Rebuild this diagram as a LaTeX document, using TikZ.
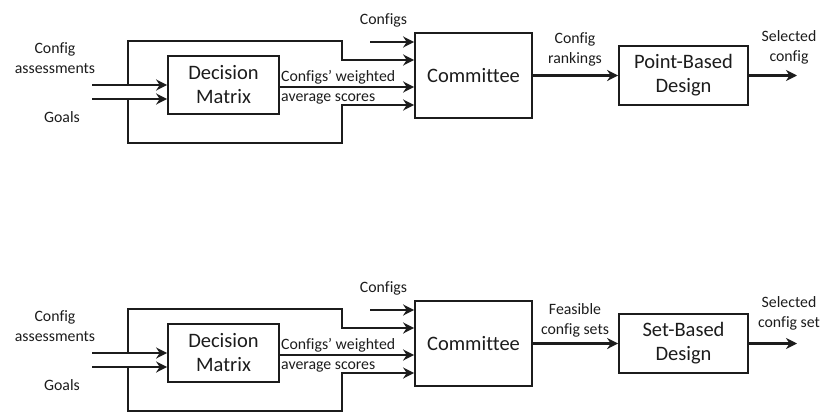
\documentclass[tikz,border=0pt]{standalone}
\usepackage{fontspec}
\setmainfont[Ligatures=NoCommon]{Carlito}
\usetikzlibrary{arrows.meta}
\definecolor{ink}{RGB}{28,28,28}
\tikzset{
  blk/.style={draw=ink, line width=1.7pt, inner sep=0pt, align=center,
    font=\fontsize{20.5}{24}\selectfont, text=ink},
  lbl/.style={align=center, inner sep=0pt, font=\fontsize{15.8}{20}\selectfont, text=ink},
  flow/.style={draw=ink, line width=2.6pt, line join=miter,
    -{Stealth[length=11pt,width=11pt,inset=3.5pt]}},
}
% One decision panel: #1 name suffix, #2 label between committee and design box,
% #3 y of that label, #4 design box text, #5 output label, #6 y of output label
\newcommand\decisionpanel[6]{%
  \node[blk, minimum width=111pt, minimum height=58pt] (dm#1) at (223.5,85) {Decision\\Matrix};
  \node[blk, minimum width=117pt, minimum height=85pt] (cm#1) at (473.5,75.5) {Committee};
  \node[blk, minimum width=129pt, minimum height=59pt] (ds#1) at (683.5,75.5) {#4};
  % input labels
  \node[lbl] (lca#1) at (55,58.5) {Config\\assessments};
  \node[lbl] (lgo#1) at (62,117) {Goals};
  \node[lbl] (lcf#1) at (383.5,20) {Configs};
  \node[lbl, align=left, anchor=west] (lws#1) at (281,87.5) {Configs’ weighted\\average scores};
  \node[lbl] (lrk#1) at (575,#3) {#2};
  \node[lbl] (lout#1) at (789,#6) {#5};
  % inputs to the decision matrix
  \coordinate (ca#1) at (92,85);
  \coordinate (go#1) at (92,99);
  \draw[flow] (ca#1) -- (ca#1 -| dm#1.west);
  \draw[flow] (go#1) -- (go#1 -| dm#1.west);
  % bypass wires around the decision matrix
  \coordinate (jt#1) at (128,85);
  \coordinate (jb#1) at (128,99);
  \coordinate (kt#1) at (342,60);
  \coordinate (kb#1) at (342,105);
  \draw[flow] (jt#1) -- (128,41) -- (342,41) -- (kt#1) -- (kt#1 -| cm#1.west);
  \draw[flow] (jb#1) -- (128,143) -- (342,143) -- (kb#1) -- (kb#1 -| cm#1.west);
  % direct inputs to the committee
  \coordinate (cf#1) at (370,42);
  \draw[flow] (cf#1) -- (cf#1 -| cm#1.west);
  \coordinate (ws#1) at (279,87);
  \draw[flow] (ws#1) -- (ws#1 -| cm#1.west);
  % committee to design, design to output
  \coordinate (out#1) at (797,75.5);
  \draw[flow] (cm#1.east) -- (ds#1.west);
  \draw[flow] (ds#1.east) -- (out#1);
}
\begin{document}
\begin{tikzpicture}[x=1pt,y=-1pt]
  \useasboundingbox (0,0) rectangle (822,415);
  \decisionpanel{a}{Config\\rankings}{49}{Point-Based\\Design}{Selected\\config}{47}
  \begin{scope}[yshift=-268pt]
    \decisionpanel{b}{Feasible\\config sets}{52.5}{Set-Based\\Design}{Selected\\config set}{45.5}
  \end{scope}
\end{tikzpicture}
\end{document}
